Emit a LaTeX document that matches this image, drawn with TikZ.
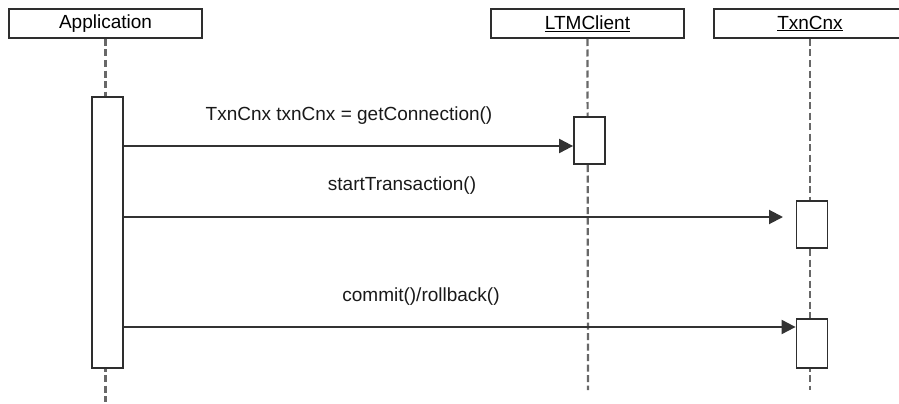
\documentclass[tikz,border=0pt]{standalone}
\usepackage{fontspec}
\setmainfont{Liberation Sans}
\usetikzlibrary{arrows.meta}
\definecolor{boxline}{HTML}{2E2E2E}
\definecolor{arrline}{HTML}{333333}
\definecolor{lifeline}{HTML}{686868}
\begin{document}
\begin{tikzpicture}[x=1pt,y=-1pt,
  head/.style={draw=boxline,line width=2pt,fill=white,minimum width=193pt,minimum height=29pt,inner sep=0pt,font=\fontsize{19}{22}\selectfont},
  actbox/.style={draw=boxline,line width=1.8pt,fill=white,minimum width=31pt,inner sep=0pt},
  life/.style={draw=lifeline,line width=2.2pt,dash pattern=on 7pt off 3.5pt},
  msg/.style={draw=arrline,line width=2pt,-{Triangle[length=14pt,width=14pt]}},
  lbl/.style={font=\fontsize{19}{22}\selectfont,inner sep=0pt,text=black!90}]
\useasboundingbox (0,0) rectangle (899,404);
\begin{scope}
\clip (0,0) rectangle (899,404);
% lifelines
\coordinate (append) at (105.5,402);
\coordinate (ltmend) at (588,390);
\coordinate (txnend) at (810,390);
\node[head] (app) at (105.5,23.5) {Application};
\node[head] (ltm) at (587.5,23.5) {\underline{LTMClient}};
\node[head] (txn) at (810,23.5) {\underline{TxnCnx}};
\draw[life] (app.south) -- (append);
\draw[life] (ltm.south) -- (ltmend);
\draw[life] (txn.south) -- (txnend);
% activations
\node[actbox,minimum height=271pt] (appact) at (107.5,232.5) {};
\node[actbox,minimum height=47pt] (ltmact) at (589.5,140.5) {};
\node[actbox,minimum height=47pt] (txnact1) at (812,224.5) {};
\node[actbox,minimum height=49pt] (txnact2) at (812,343.5) {};
% messages
\coordinate (m1) at (0,146);
\coordinate (m2) at (0,217);
\coordinate (m3) at (0,327);
\coordinate (m2end) at (783,217);
\draw[msg] (appact.east |- m1) -- (ltmact.west |- m1);
\draw[msg] (appact.east |- m2) -- (m2end);
\draw[msg] (appact.east |- m3) -- (txnact2.west |- m3);
\node[lbl] (l1) at (349,116) {TxnCnx txnCnx = getConnection()};
\node[lbl] (l2) at (402,186) {startTransaction()};
\node[lbl] (l3) at (421,297) {commit()/rollback()};
\end{scope}
\end{tikzpicture}
\end{document}
